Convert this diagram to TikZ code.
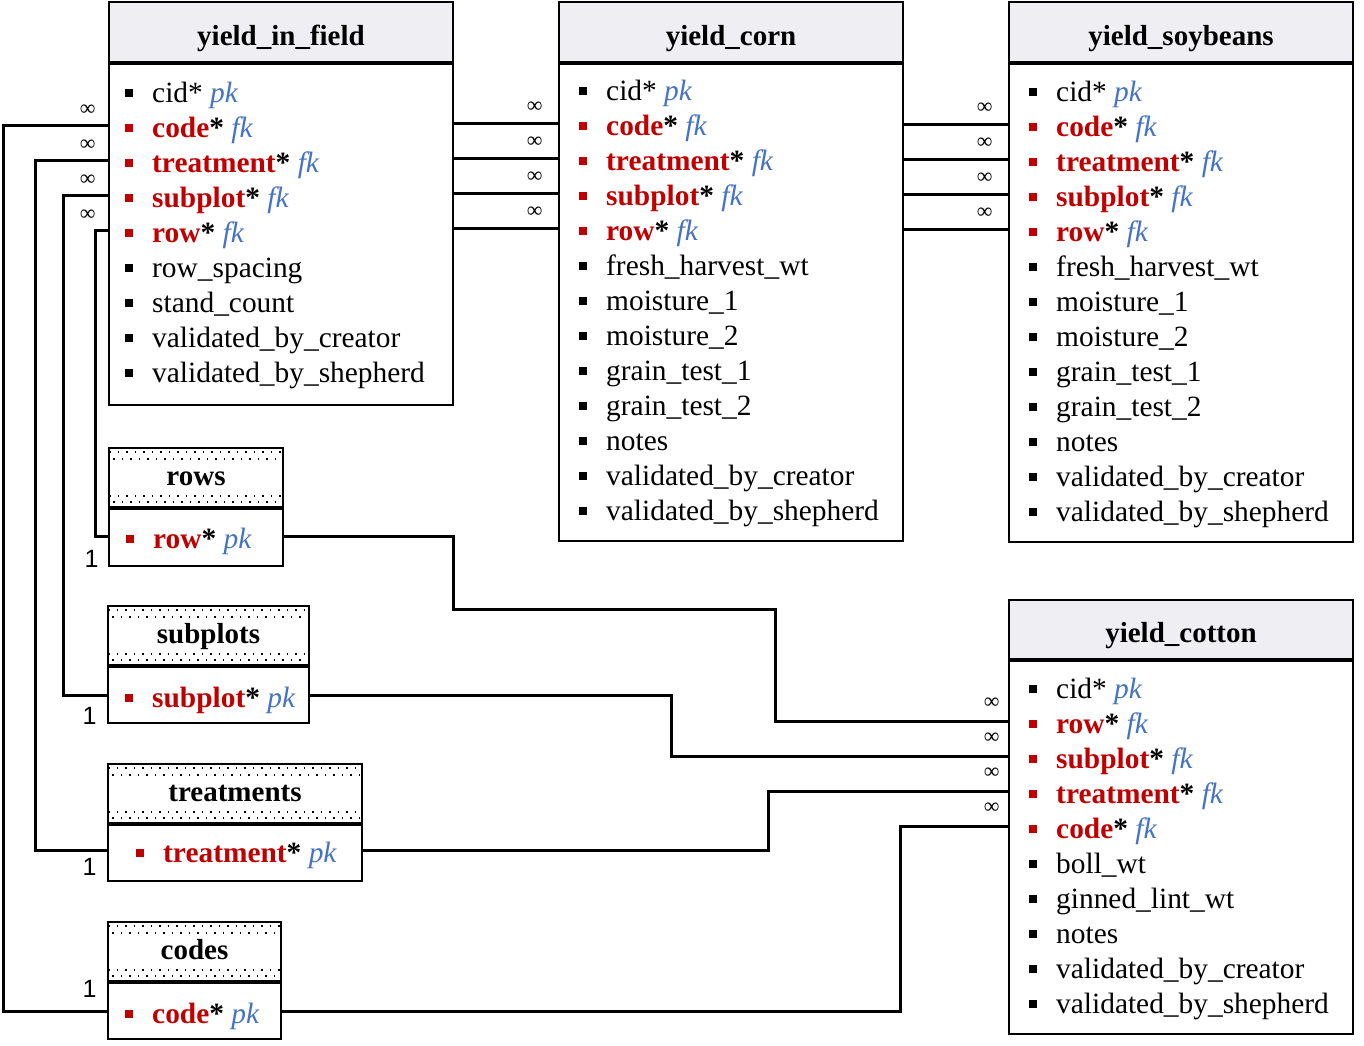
\documentclass[tikz,border=0pt]{standalone}
\usepackage{fontspec}
\setmainfont{Liberation Serif}
\setsansfont{Liberation Sans}
\usetikzlibrary{positioning}
\definecolor{keyred}{HTML}{C00000}
\definecolor{keyblue}{HTML}{4472C4}
\definecolor{headgray}{HTML}{EFEEF2}
\newcommand{\bul}[1]{\textcolor{#1}{\rule[5pt]{8pt}{8pt}}\hspace{19pt}}
\newcommand{\pk}{\textcolor{keyblue}{\textit{pk}}}
\newcommand{\fk}{\textcolor{keyblue}{\textit{fk}}}
\newcommand{\keyf}[1]{\bul{keyred}\textcolor{keyred}{\textbf{#1}}\textbf{*}~}
\tikzset{
  tblhead/.style={draw, line width=2pt, fill=headgray, minimum height=60pt, inner sep=0pt, text height=26pt, text depth=0pt, font=\fontsize{29}{35}\selectfont\bfseries},
  dotrow/.style={line width=1.5pt, dash pattern=on 1.5pt off 7pt},
  lookhead/.style={tblhead, fill=white, minimum height=59pt, text height=15pt, path picture={
      \draw[dotrow] ([yshift=-4pt]path picture bounding box.north west) -- ([yshift=-4pt]path picture bounding box.north east);
      \draw[dotrow, dash phase=4.25pt] ([yshift=-11pt]path picture bounding box.north west) -- ([yshift=-11pt]path picture bounding box.north east);
      \draw[dotrow] ([yshift=11pt]path picture bounding box.south west) -- ([yshift=11pt]path picture bounding box.south east);
      \draw[dotrow, dash phase=4.25pt] ([yshift=5pt]path picture bounding box.south west) -- ([yshift=5pt]path picture bounding box.south east);}},
  tblbody/.style={draw, line width=2pt, inner sep=0pt},
  fld/.style={anchor=base west, inner sep=0pt, text height=24pt, text depth=0pt, font=\fontsize{29.4}{35}\selectfont},
  conn/.style={line width=3pt},
  manylab/.style={font=\fontsize{22}{22}\selectfont, inner sep=0pt},
  onelab/.style={font=\sffamily\fontsize{25}{25}\selectfont, inner sep=0pt},
}
\begin{document}
\begin{tikzpicture}[x=1pt,y=-1pt]
  \useasboundingbox (0,0) rectangle (1364,1045);
  % yield_in_field
  \node[tblhead, minimum width=344pt] (yif) at (281,32) {yield\_in\_field};
  \node[tblbody, minimum width=344pt, minimum height=341pt, below=0pt of yif] (yifb) {};
  \node[fld] (yif-cid)  at (125,102) {\bul{black}cid* \pk};
  \node[fld] (yif-code) at (125,137) {\keyf{code}\fk};
  \node[fld] (yif-trt)  at (125,172) {\keyf{treatment}\fk};
  \node[fld] (yif-sub)  at (125,207) {\keyf{subplot}\fk};
  \node[fld] (yif-row)  at (125,242) {\keyf{row}\fk};
  \node[fld] (yif-rsp)  at (125,277) {\bul{black}row\_spacing};
  \node[fld] (yif-stc)  at (125,312) {\bul{black}stand\_count};
  \node[fld] (yif-vbc)  at (125,347) {\bul{black}validated\_by\_creator};
  \node[fld] (yif-vbs)  at (125,382) {\bul{black}validated\_by\_shepherd};
  % yield_corn
  \node[tblhead, minimum width=344pt] (corn) at (731,32) {yield\_corn};
  \node[tblbody, minimum width=344pt, minimum height=477pt, below=0pt of corn] (cornb) {};
  \node[fld] (corn-cid)  at (579,100) {\bul{black}cid* \pk};
  \node[fld] (corn-code) at (579,135) {\keyf{code}\fk};
  \node[fld] (corn-trt)  at (579,170) {\keyf{treatment}\fk};
  \node[fld] (corn-sub)  at (579,205) {\keyf{subplot}\fk};
  \node[fld] (corn-row)  at (579,240) {\keyf{row}\fk};
  \node[fld] (corn-fhw)  at (579,275) {\bul{black}fresh\_harvest\_wt};
  \node[fld] (corn-m1)   at (579,310) {\bul{black}moisture\_1};
  \node[fld] (corn-m2)   at (579,345) {\bul{black}moisture\_2};
  \node[fld] (corn-g1)   at (579,380) {\bul{black}grain\_test\_1};
  \node[fld] (corn-g2)   at (579,415) {\bul{black}grain\_test\_2};
  \node[fld] (corn-nts)  at (579,450) {\bul{black}notes};
  \node[fld] (corn-vbc)  at (579,485) {\bul{black}validated\_by\_creator};
  \node[fld] (corn-vbs)  at (579,520) {\bul{black}validated\_by\_shepherd};
  % yield_soybeans
  \node[tblhead, minimum width=344pt] (soy) at (1181,32) {yield\_soybeans};
  \node[tblbody, minimum width=344pt, minimum height=478pt, below=0pt of soy] (soyb) {};
  \node[fld] (soy-cid)  at (1029,101) {\bul{black}cid* \pk};
  \node[fld] (soy-code) at (1029,136) {\keyf{code}\fk};
  \node[fld] (soy-trt)  at (1029,171) {\keyf{treatment}\fk};
  \node[fld] (soy-sub)  at (1029,206) {\keyf{subplot}\fk};
  \node[fld] (soy-row)  at (1029,241) {\keyf{row}\fk};
  \node[fld] (soy-fhw)  at (1029,276) {\bul{black}fresh\_harvest\_wt};
  \node[fld] (soy-m1)   at (1029,311) {\bul{black}moisture\_1};
  \node[fld] (soy-m2)   at (1029,346) {\bul{black}moisture\_2};
  \node[fld] (soy-g1)   at (1029,381) {\bul{black}grain\_test\_1};
  \node[fld] (soy-g2)   at (1029,416) {\bul{black}grain\_test\_2};
  \node[fld] (soy-nts)  at (1029,451) {\bul{black}notes};
  \node[fld] (soy-vbc)  at (1029,486) {\bul{black}validated\_by\_creator};
  \node[fld] (soy-vbs)  at (1029,521) {\bul{black}validated\_by\_shepherd};
  % yield_cotton
  \node[tblhead, minimum width=344pt, minimum height=59pt] (cot) at (1181,629.5) {yield\_cotton};
  \node[tblbody, minimum width=344pt, minimum height=373pt, below=0pt of cot] (cotb) {};
  \node[fld] (cot-cid)  at (1029,698)  {\bul{black}cid* \pk};
  \node[fld] (cot-row)  at (1029,733)  {\keyf{row}\fk};
  \node[fld] (cot-sub)  at (1029,768)  {\keyf{subplot}\fk};
  \node[fld] (cot-trt)  at (1029,803)  {\keyf{treatment}\fk};
  \node[fld] (cot-code) at (1029,838)  {\keyf{code}\fk};
  \node[fld] (cot-bw)   at (1029,873)  {\bul{black}boll\_wt};
  \node[fld] (cot-glw)  at (1029,908)  {\bul{black}ginned\_lint\_wt};
  \node[fld] (cot-nts)  at (1029,943)  {\bul{black}notes};
  \node[fld] (cot-vbc)  at (1029,978)  {\bul{black}validated\_by\_creator};
  \node[fld] (cot-vbs)  at (1029,1013) {\bul{black}validated\_by\_shepherd};
  % lookup tables
  \node[lookhead, minimum width=174pt] (rows) at (196,477.5) {rows};
  \node[tblbody, minimum width=174pt, minimum height=57pt, below=0pt of rows] (rowsb) {};
  \node[fld] (rows-row) at (126,548) {\keyf{row}\pk};
  \node[lookhead, minimum width=201pt] (subs) at (208.5,635.5) {subplots};
  \node[tblbody, minimum width=201pt, minimum height=56pt, below=0pt of subs] (subsb) {};
  \node[fld] (subs-sub) at (125,707) {\keyf{subplot}\pk};
  \node[lookhead, minimum width=254pt] (trts) at (235,793.5) {treatments};
  \node[tblbody, minimum width=254pt, minimum height=56pt, below=0pt of trts] (trtsb) {};
  \node[fld] (trts-trt) at (136,862) {\keyf{treatment}\pk};
  \node[lookhead, minimum width=173pt] (codes) at (194.5,951.5) {codes};
  \node[tblbody, minimum width=173pt, minimum height=56pt, below=0pt of codes] (codesb) {};
  \node[fld] (codes-code) at (125,1023) {\keyf{code}\pk};
  % routing columns
  \coordinate (xcode) at (3,0);
  \coordinate (xtrt)  at (35,0);
  \coordinate (xsub)  at (63,0);
  \coordinate (xrow)  at (95,0);
  \coordinate (jrowA) at (453,609);
  \coordinate (jrowB) at (775,609);
  \coordinate (jsub)  at (671,0);
  \coordinate (jtrt)  at (768,0);
  \coordinate (jcode) at (900,0);
  % lookups to yield_in_field
  \draw[conn] (codesb.west |- codes-code) node[onelab, above left=12pt and 9pt] {1} -- (codes-code -| xcode) |- (yifb.west |- yif-code) node[manylab, above left=8pt and 11pt] {∞};
  \draw[conn] (trtsb.west |- trts-trt) node[onelab, below left=7pt and 9pt] {1} -- (trts-trt -| xtrt) |- (yifb.west |- yif-trt) node[manylab, above left=8pt and 11pt] {∞};
  \draw[conn] (subsb.west |- subs-sub) node[onelab, below left=11pt and 9pt] {1} -- (subs-sub -| xsub) |- (yifb.west |- yif-sub) node[manylab, above left=8pt and 11pt] {∞};
  \draw[conn] (rowsb.west |- rows-row) node[onelab, below left=13pt and 8pt] {1} -- (rows-row -| xrow) |- (yifb.west |- yif-row) node[manylab, above left=8pt and 11pt] {∞};
  % yield_in_field to yield_corn to yield_soybeans
  \draw[conn] (yifb.east |- corn-code) -- (cornb.west |- corn-code) node[manylab, above left=9pt and 14pt] {∞};
  \draw[conn] (yifb.east |- corn-trt)  -- (cornb.west |- corn-trt)  node[manylab, above left=9pt and 14pt] {∞};
  \draw[conn] (yifb.east |- corn-sub)  -- (cornb.west |- corn-sub)  node[manylab, above left=9pt and 14pt] {∞};
  \draw[conn] (yifb.east |- corn-row)  -- (cornb.west |- corn-row)  node[manylab, above left=9pt and 14pt] {∞};
  \draw[conn] (cornb.east |- soy-code) -- (soyb.west |- soy-code) node[manylab, above left=9pt and 14pt] {∞};
  \draw[conn] (cornb.east |- soy-trt)  -- (soyb.west |- soy-trt)  node[manylab, above left=9pt and 14pt] {∞};
  \draw[conn] (cornb.east |- soy-sub)  -- (soyb.west |- soy-sub)  node[manylab, above left=9pt and 14pt] {∞};
  \draw[conn] (cornb.east |- soy-row)  -- (soyb.west |- soy-row)  node[manylab, above left=9pt and 14pt] {∞};
  % lookups to yield_cotton
  \draw[conn] (rowsb.east |- rows-row) -- (rows-row -| jrowA) |- (jrowB) |- (cotb.west |- cot-row) node[manylab, above left=11pt and 7pt] {∞};
  \draw[conn] (subsb.east |- subs-sub) -- (subs-sub -| jsub) |- (cotb.west |- cot-sub) node[manylab, above left=11pt and 7pt] {∞};
  \draw[conn] (trtsb.east |- trts-trt) -- (trts-trt -| jtrt) |- (cotb.west |- cot-trt) node[manylab, above left=11pt and 7pt] {∞};
  \draw[conn] (codesb.east |- codes-code) -- (codes-code -| jcode) |- (cotb.west |- cot-code) node[manylab, above left=11pt and 7pt] {∞};
\end{tikzpicture}
\end{document}
